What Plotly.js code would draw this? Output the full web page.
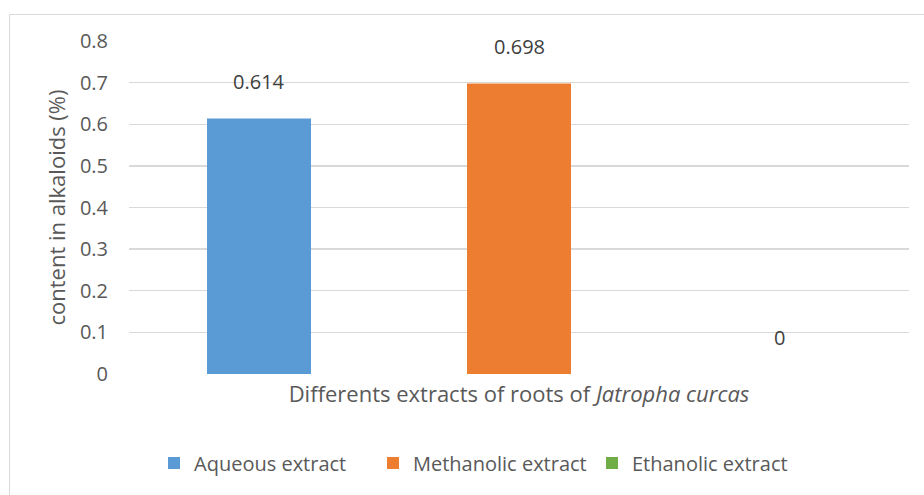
<!DOCTYPE html>
<html>
<head>
<meta charset="utf-8">
<script src="https://cdn.plot.ly/plotly-3.0.1.min.js"></script>
<style>
html,body{margin:0;padding:0;background:#fff;}
#chart{width:924px;height:495px;}
</style>
</head>
<body>
<div id="chart"></div>
<script>
const seriesNames = ["Aqueous extract", "Methanolic extract", "Ethanolic extract"];
const seriesValues = [0.614, 0.698, 0];
const valueLabels = ["0.614", "0.698", "0"];
const seriesColors = ["#5b9bd5", "#ed7d31", "#70ad47"];
const yTickVals = [0, 0.1, 0.2, 0.3, 0.4, 0.5, 0.6, 0.7, 0.8];
const yTickText = ["0", "0.1", "0.2", "0.3", "0.4", "0.5", "0.6", "0.7", "0.8"];
const xTitle = "Differents extracts of roots of <i>Jatropha curcas</i>";
const yTitle = "content in alkaloids (%)";

const FONT = "Open Sans, Lato, sans-serif";

const traces = seriesNames.map((name, i) => ({
  type: "bar",
  name: name,
  x: [name],
  y: [seriesValues[i]],
  width: 0.4,
  marker: {color: seriesColors[i]},
  hoverinfo: "none"
}));

const annotations = seriesNames.map((name, i) => ({
  x: name,
  y: seriesValues[i],
  xref: "x",
  yref: "y",
  text: valueLabels[i],
  showarrow: false,
  yshift: 37,
  font: {family: FONT, size: 20, color: "#404040"}
}));

const W = 780, H = 333, L = 129, B = 121, T = 41;
function px2paperX(px){ return (px - L) / W; }
function px2paperY(py){ return (495 - B - py) / H; }

const layout = {
  width: 924,
  height: 495,
  margin: {l: L, r: 15, t: T, b: B},
  paper_bgcolor: "#ffffff",
  plot_bgcolor: "#ffffff",
  barmode: "overlay",
  showlegend: true,
  font: {family: FONT, color: "#595959", size: 20},
  xaxis: {
    type: "category",
    categoryorder: "array",
    categoryarray: seriesNames,
    range: [-0.5, 2.5],
    showticklabels: false,
    showgrid: false,
    zeroline: false,
    showline: false,
    ticks: "",
    title: {text: xTitle, font: {family: FONT, size: 22, color: "#595959"}, standoff: 12}
  },
  yaxis: {
    range: [0, 0.8],
    tickvals: yTickVals,
    ticktext: yTickText,
    showgrid: true,
    gridcolor: "#d9d9d9",
    gridwidth: 1.3,
    zeroline: false,
    showline: false,
    ticks: "",
    ticklabelstandoff: 20,
    tickfont: {family: FONT, size: 20, color: "#595959"},
    title: {text: yTitle, font: {family: FONT, size: 22, color: "#595959"}, standoff: 8}
  },
  legend: {
    orientation: "h",
    x: px2paperX(154),
    xanchor: "left",
    y: px2paperY(463),
    yanchor: "middle",
    entrywidth: 174,
    entrywidthmode: "pixels",
    font: {family: FONT, size: 20, color: "#595959"},
    itemclick: false
  },
  annotations: annotations,
  shapes: [{
    type: "rect",
    xref: "paper", yref: "paper",
    x0: px2paperX(9.5), x1: px2paperX(940),
    y0: px2paperY(510), y1: px2paperY(14.5),
    line: {color: "#d9d9d9", width: 1},
    fillcolor: "rgba(0,0,0,0)",
    layer: "below"
  }]
};

Plotly.newPlot("chart", traces, layout, {displayModeBar: false, staticPlot: true});
</script>
</body>
</html>
